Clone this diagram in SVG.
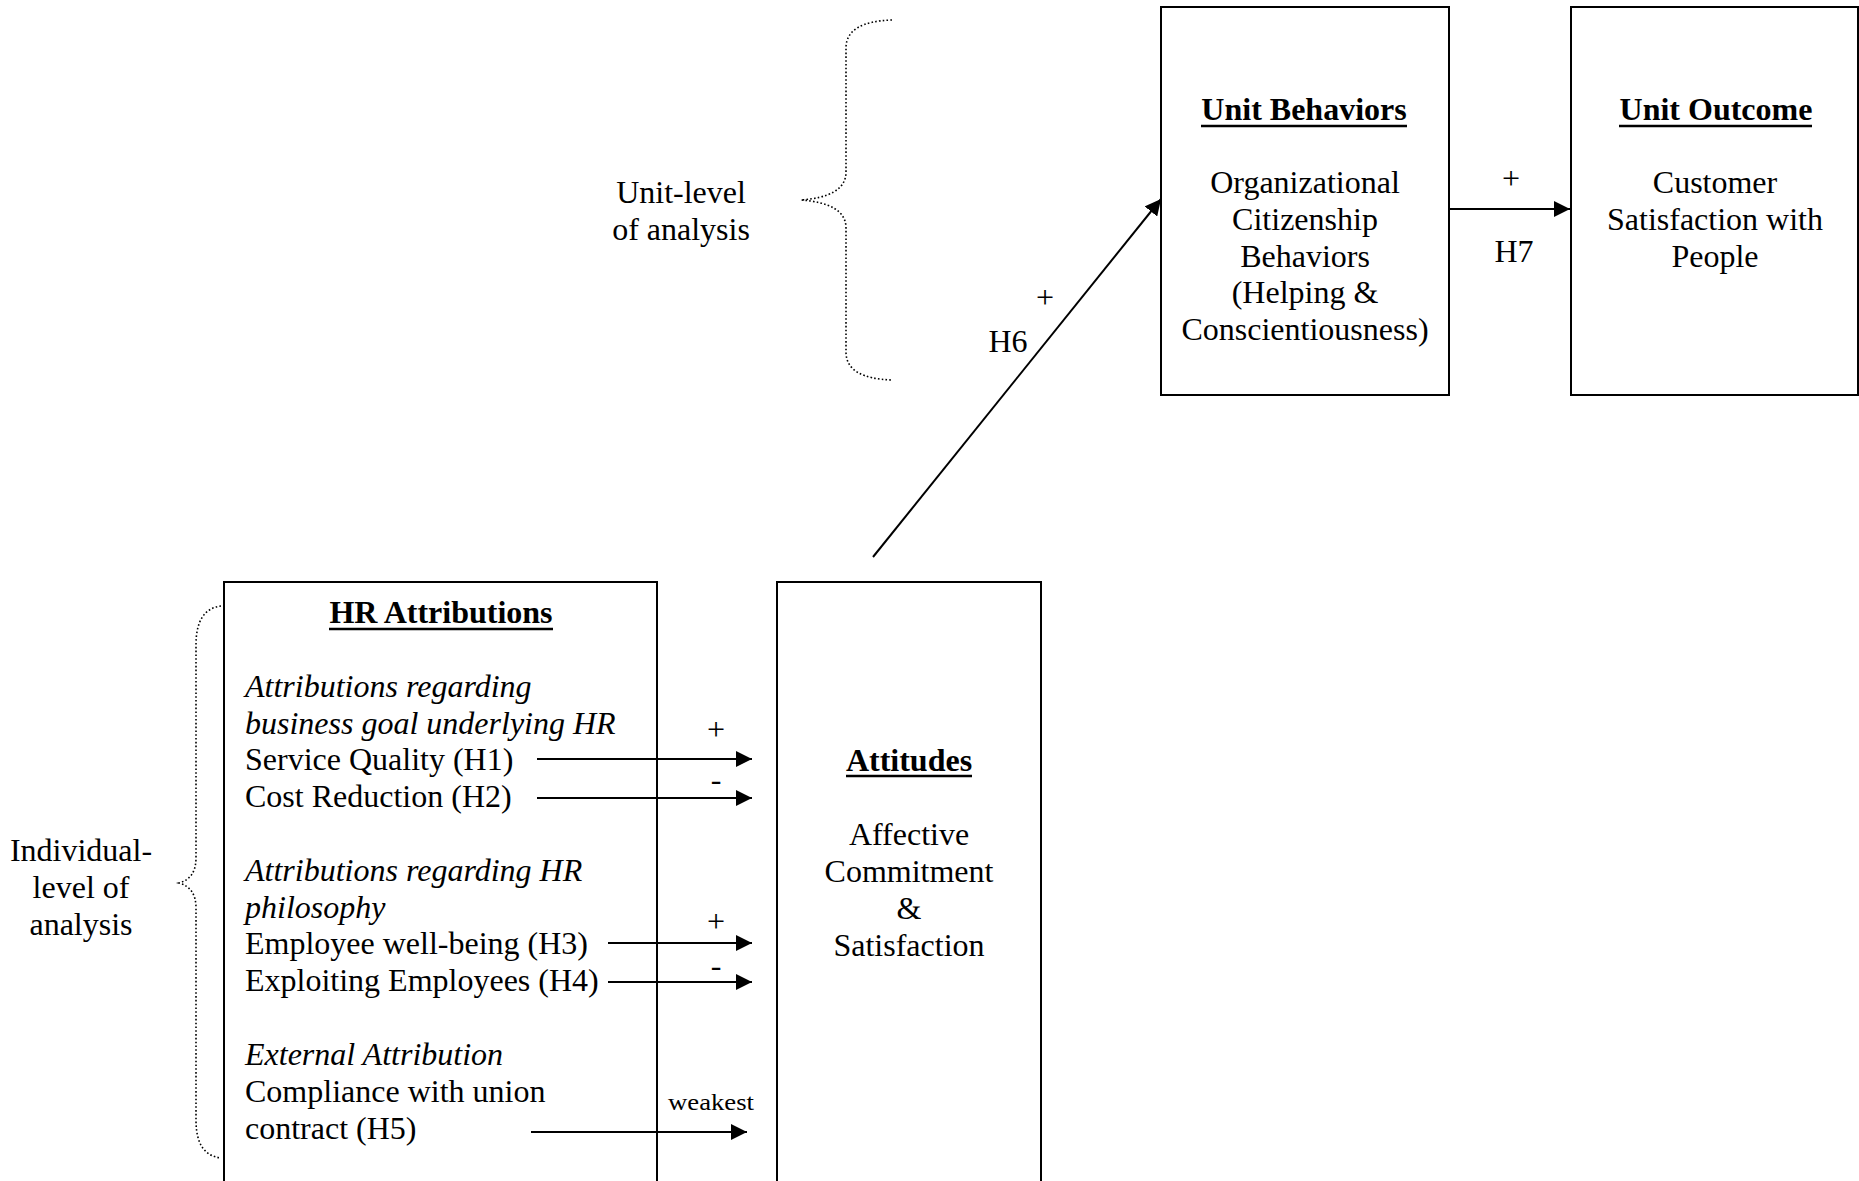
<svg xmlns="http://www.w3.org/2000/svg" width="1859" height="1181" viewBox="0 0 1859 1181">
<style>
text{font-family:"Liberation Serif","Times New Roman",serif;font-size:32px;fill:#000}
.c{text-anchor:middle}
.b{font-weight:bold}
.i{font-style:italic}
.box{fill:#fff;stroke:#000;stroke-width:2}
.ul{stroke:#000;stroke-width:2.5}
.ln{stroke:#000;stroke-width:2;fill:none}
.brace{fill:none;stroke:#000;stroke-width:1.6;stroke-dasharray:1.6 2.2}
</style>
<defs>
<marker id="ah" markerUnits="userSpaceOnUse" markerWidth="16" markerHeight="16" refX="16" refY="8" orient="auto">
<path d="M0,0 L16,8 L0,16 z" fill="#000"/>
</marker>
</defs>
<rect width="1859" height="1181" fill="#fff"/>

<g id="unit-level-label">
<path class="brace" d="M892,20 C862,21 846,30 846,48 L846,172 C846,190 828,198 801,200 C828,202 846,210 846,228 L846,352 C846,370 862,379 892,380"/>
<text class="c" x="681" y="203">Unit-level</text>
<text class="c" x="681" y="240">of analysis</text>
</g>

<g id="individual-level-label">
<path class="brace" d="M221,606 C205,608 196,620 196,645 L196,858 C196,872 190,880 179,883 C190,886 196,894 196,908 L196,1120 C196,1145 205,1156 221,1158"/>
<text class="c" x="81" y="861">Individual-</text>
<text class="c" x="81" y="898">level of</text>
<text class="c" x="81" y="935">analysis</text>
</g>

<g id="unit-behaviors">
<rect class="box" x="1161" y="7" width="288" height="388"/>
<text class="c b" x="1304" y="120">Unit Behaviors</text>
<line class="ul" x1="1201" y1="126" x2="1407" y2="126"/>
<text class="c" x="1305" y="193">Organizational</text>
<text class="c" x="1305" y="230">Citizenship</text>
<text class="c" x="1305" y="267">Behaviors</text>
<text class="c" x="1305" y="303">(Helping &amp;</text>
<text class="c" x="1305" y="340">Conscientiousness)</text>
</g>

<g id="unit-outcome">
<rect class="box" x="1571" y="7" width="287" height="388"/>
<text class="c b" x="1716" y="120">Unit Outcome</text>
<line class="ul" x1="1619" y1="126" x2="1812" y2="126"/>
<text class="c" x="1715" y="193">Customer</text>
<text class="c" x="1715" y="230">Satisfaction with</text>
<text class="c" x="1715" y="267">People</text>
</g>

<g id="hr-attributions">
<rect class="box" x="224" y="582" width="433" height="620"/>
<text class="c b" x="441" y="623">HR Attributions</text>
<line class="ul" x1="329" y1="629" x2="553" y2="629"/>
<text class="i" x="245" y="697">Attributions regarding</text>
<text class="i" x="245" y="734">business goal underlying HR</text>
<text x="245" y="770">Service Quality (H1)</text>
<text x="245" y="807">Cost Reduction (H2)</text>
<text class="i" x="245" y="881">Attributions regarding HR</text>
<text class="i" x="245" y="918">philosophy</text>
<text x="245" y="954">Employee well-being (H3)</text>
<text x="245" y="991">Exploiting Employees (H4)</text>
<text class="i" x="245" y="1065">External Attribution</text>
<text x="245" y="1102">Compliance with union</text>
<text x="245" y="1139">contract (H5)</text>
</g>

<g id="attitudes">
<rect class="box" x="777" y="582" width="264" height="620"/>
<text class="c b" x="909" y="771">Attitudes</text>
<line class="ul" x1="846" y1="776" x2="972" y2="776"/>
<text class="c" x="909" y="845">Affective</text>
<text class="c" x="909" y="882">Commitment</text>
<text class="c" x="909" y="919">&amp;</text>
<text class="c" x="909" y="956">Satisfaction</text>
</g>

<g id="connectors">
<line class="ln" x1="537" y1="759" x2="752" y2="759" marker-end="url(#ah)"/>
<line class="ln" x1="537" y1="798" x2="752" y2="798" marker-end="url(#ah)"/>
<line class="ln" x1="608" y1="943" x2="752" y2="943" marker-end="url(#ah)"/>
<line class="ln" x1="608" y1="982" x2="752" y2="982" marker-end="url(#ah)"/>
<line class="ln" x1="531" y1="1132" x2="747" y2="1132" marker-end="url(#ah)"/>
<line class="ln" x1="873" y1="557" x2="1161" y2="199" marker-end="url(#ah)"/>
<line class="ln" x1="1449" y1="209" x2="1570" y2="209" marker-end="url(#ah)"/>
<text class="c" x="716" y="740">+</text>
<text class="c" x="716" y="790">-</text>
<text class="c" x="716" y="932">+</text>
<text class="c" x="716" y="976">-</text>
<text class="c" x="711" y="1110" font-size="23" textLength="86" lengthAdjust="spacingAndGlyphs" style="font-size:23px">weakest</text>
<text class="c" x="1045" y="308">+</text>
<text class="c" x="1008" y="352">H6</text>
<text class="c" x="1511" y="189">+</text>
<text class="c" x="1514" y="262">H7</text>
</g>
</svg>
